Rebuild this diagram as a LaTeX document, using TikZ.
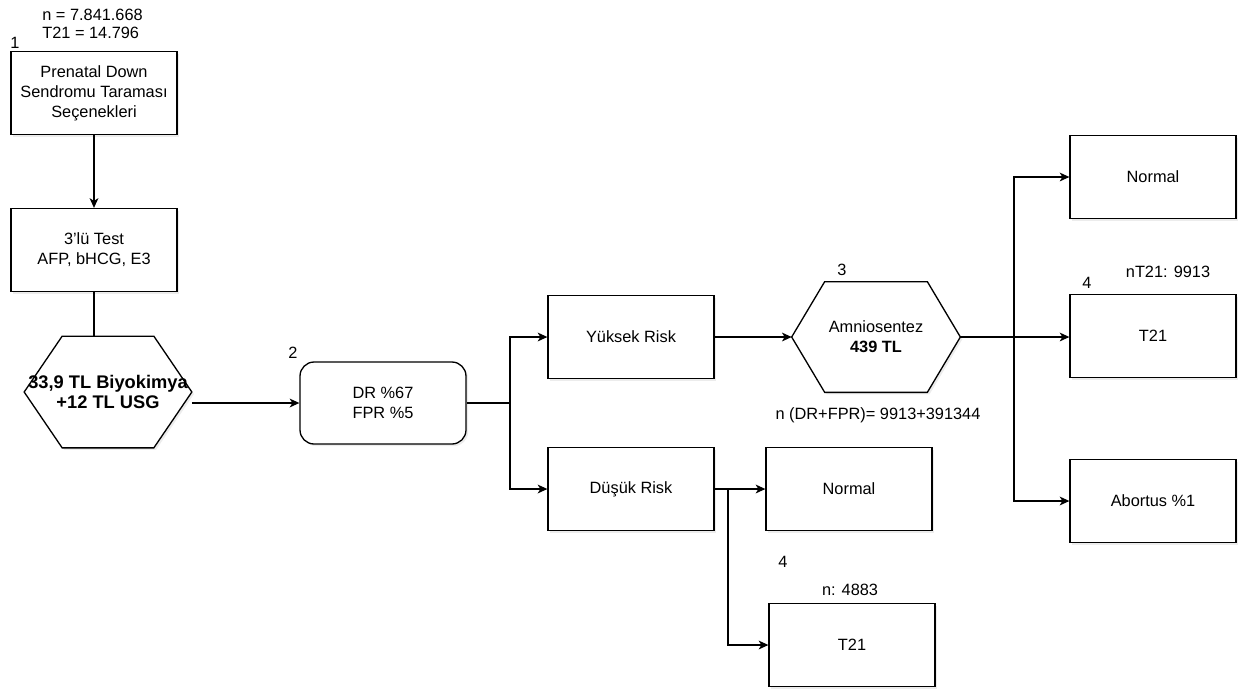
\documentclass[tikz,border=0pt]{standalone}
\usepackage{fontspec}
\setmainfont{Liberation Sans}
\usetikzlibrary{arrows.meta,positioning,calc,shadows,backgrounds}
\tikzset{
  box/.style={draw=black,line width=0.75pt,fill=white,align=center,
              minimum width=3.32cm,minimum height=1.66cm,inner sep=2pt,
              drop shadow={shadow xshift=1.2pt,shadow yshift=-1.2pt,opacity=0.15}},
  roundbox/.style={box,rounded corners=8pt},
  hexbox/.style={align=center,inner sep=0pt},
  arr/.style={-{Stealth[length=5.5pt,width=5pt,inset=1.5pt]},line width=0.75pt},
  line/.style={line width=0.75pt},
  lbl/.style={align=left,inner sep=0pt},
}
% outline of a hexagon round a plain node: name, slant
\newcommand{\hexoutline}[2]{%
  \begin{pgfonlayer}{background}
  \draw[line,fill=white,drop shadow={shadow xshift=1.2pt,shadow yshift=-1.2pt,opacity=0.15}]
    (#1.west) -- ($(#1.north west)+(#2,0)$) -- ($(#1.north east)+(-#2,0)$)
    -- (#1.east) -- ($(#1.south east)+(-#2,0)$) -- ($(#1.south west)+(#2,0)$) -- cycle;
  \end{pgfonlayer}}

\begin{document}
\begin{tikzpicture}[x=0.02cm,y=-0.02cm,font=\fontsize{9.3}{11.3}\selectfont]
  \useasboundingbox (0,0) rectangle (1239,691);

  % left column
  \node[lbl,anchor=west,font=\fontsize{9.3}{10.4}\selectfont] (total) at (42,24)
    {n = 7.841.668\\T21 = 14.796};
  \node (one) at (15,43) {1};
  \node[box] (screen) at (94,93) {Prenatal Down\\Sendromu Taraması\\Seçenekleri};
  \node[box] (triple) at (94,250) {3'lü Test\\AFP, bHCG, E3};
  \node[hexbox,minimum width=3.34cm,minimum height=2.22cm,
        font=\fontsize{10.4}{11}\selectfont\bfseries] (bio) at (108,392)
    {33,9 TL Biyokimya\\+12 TL USG};
  \hexoutline{bio}{38}

  % test result
  \node (two) at (293,353) {2};
  \node[roundbox,minimum height=1.64cm] (rate) at (383,403) {DR \%67\\FPR \%5};
  \coordinate (split1) at (510,403);
  \node[box] (high) at (631,337) {Yüksek Risk};
  \node[box] (low) at (631,489) {Düşük Risk};

  % amniocentesis
  \node (three) at (842,270) {3};
  \node[hexbox,minimum width=3.36cm,minimum height=2.2cm] (amnio) at (876,337)
    {Amniosentez\\\textbf{439 TL}};
  \hexoutline{amnio}{33}
  \node (count) at (878,415) {n (DR+FPR)= 9913+391344};
  \coordinate (split2) at (1014,337);

  % outcomes
  \node[box] (normA) at (1153,177) {Normal};
  \node (fourA) at (1087,283) {4};
  \node (ntA) at (1168,272) {nT21: 9913};
  \node[box] (tA) at (1153,336) {T21};
  \node[box] (abort) at (1153,501) {Abortus \%1};
  \node[box] (normB) at (849,489) {Normal};
  \coordinate (split3) at (728,489);
  \node (fourB) at (783,562) {4};
  \node (ntB) at (850,590) {n: 4883};
  \node[box] (tB) at (852,645) {T21};

  % connectors
  \draw[arr] (screen) -- (triple);
  \draw[line] (triple) -- (triple |- bio.north);
  \draw[arr] (bio.east |- rate.west) -- (rate);
  \draw[line] (rate) -- (split1);
  \draw[arr] (split1) |- (high);
  \draw[arr] (split1) |- (low);
  \draw[arr] (high) -- (amnio);
  \draw[line] (amnio) -- (split2);
  \draw[arr] (split2) |- (normA);
  \draw[arr] (split2) -- (tA.west |- split2);
  \draw[arr] (split2) |- (abort);
  \draw[arr] (low) -- (normB);
  \draw[arr] (split3) |- (tB);
\end{tikzpicture}
\end{document}
